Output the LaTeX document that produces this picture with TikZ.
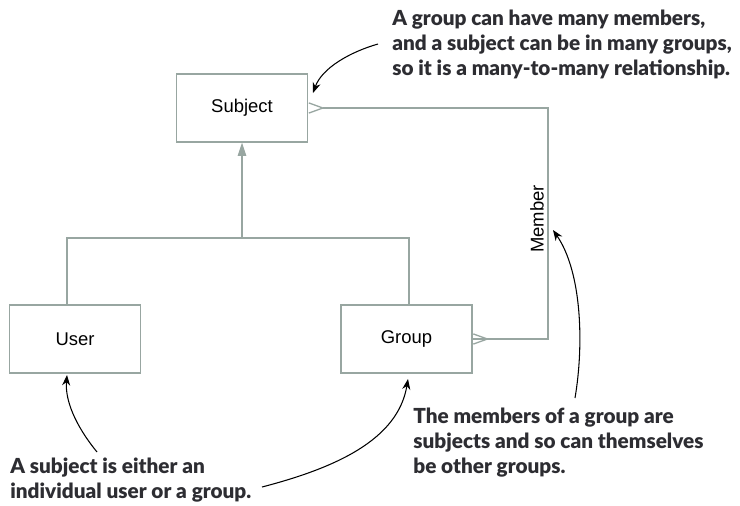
\documentclass[tikz,border=0pt]{standalone}
\usepackage{fontspec}
\setmainfont{Liberation Sans}
\newfontfamily\notefont[BoldFont={Lato Black}]{Lato}
\usetikzlibrary{arrows.meta}
\definecolor{linegray}{RGB}{152,166,161}
\definecolor{notetext}{RGB}{45,45,50}
\begin{document}
\begin{tikzpicture}[x=0.02cm, y=-0.02cm,
    entity/.style={draw=linegray, line width=0.75pt, minimum width=2.62cm, minimum height=1.36cm, font=\fontsize{10.5}{12}\selectfont},
    link/.style={draw=linegray, line width=0.75pt},
    many/.style={link, {Straight Barb[reversed, length=8pt, width=5.8pt]}-},
    note/.style={anchor=north west, inner sep=0pt, align=left, text=notetext, font=\notefont\bfseries\fontsize{11.8}{14.2}\selectfont},
    callout/.style={draw=black, line width=0.6pt, -{Stealth[length=6pt, width=4.6pt]}}]
  \useasboundingbox (0,0) rectangle (740,505);
  % entities
  \node[entity] (subject) at (242,108) {Subject};
  \node[entity] (user) at (75,339) {User};
  \node[entity] (group) at (406.5,339) {Group};
  % notes
  \node[note] (manynote) at (392,10) {A group can have many members,\\and a subject can be in many groups,\\so it is a many-to-many relationship.};
  \node[note] (eithernote) at (10,458) {A subject is either an\\individual user or a group.};
  \node[note] (membernote) at (413,408) {The members of a group are\\subjects and so can themselves\\be other groups.};
  % generalisation
  \coordinate (userup) at (67,238);
  \coordinate (groupup) at (409,238);
  \coordinate (joint) at (242,238);
  \draw[link] (user.north -| userup) -- (userup) -- (groupup) -- (group.north -| groupup);
  \draw[link, -{Triangle[length=7.5pt, width=4.8pt]}, fill=linegray] (joint) -- (subject.south);
  % membership, many-to-many
  \coordinate (bend) at (548,108);
  \draw[many] (subject.east) -- (bend) |- (group.east)
    node[pos=0.24, rotate=90, anchor=south, font=\fontsize{10.5}{12}\selectfont, inner sep=2pt] (member) {Member};
  \draw[link, {Straight Barb[reversed, length=8pt, width=5.8pt]}-] (group.east) -- ++(0.1,0);
  % callouts
  \coordinate (t1) at (378,44);   \coordinate (h1) at (313,93);
  \coordinate (t2) at (97,452);   \coordinate (h2) at (67,375);
  \coordinate (t3) at (262,487);  \coordinate (h3) at (408,379);
  \coordinate (t4) at (575,398);  \coordinate (h4) at (553,230);
  \draw[callout] (t1) .. controls (350,52) and (322,68) .. (h1);
  \draw[callout] (t2) .. controls (75,425) and (65,400) .. (h2);
  \draw[callout] (t3) .. controls (335,468) and (398,440) .. (h3);
  \draw[callout] (t4) .. controls (584,345) and (582,272) .. (h4);
\end{tikzpicture}
\end{document}
